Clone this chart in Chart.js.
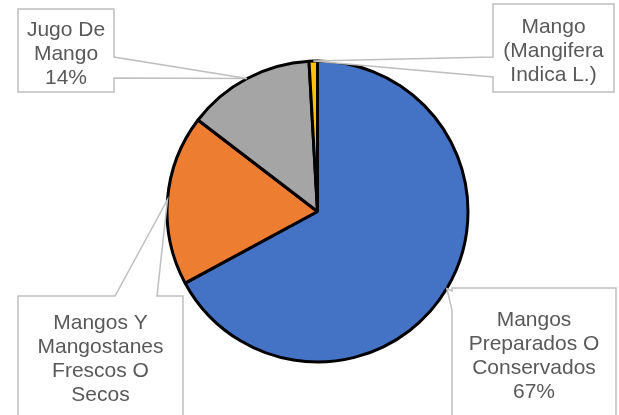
<!DOCTYPE html>
<html lang="es">
<head>
  <meta charset="UTF-8" />
  <title>Mango</title>
  <script src="https://cdn.jsdelivr.net/npm/chart.js"></script>
  <style>
    html, body { margin: 0; padding: 0; background: #fff; }
    #wrap { width: 619px; height: 415px; position: relative; }
  </style>
</head>
<body>
  <div id="wrap"><canvas id="pieChart"></canvas></div>

  <script>
    // Datos
    const categories = [
      'Mangos Preparados O Conservados',
      'Mangos Y Mangostanes Frescos O Secos',
      'Jugo De Mango',
      'Mango (Mangifera Indica L.)'
    ];
    const values = [67.1, 18.3, 13.7, 0.9];
    const labelLines = [
      ['Mangos', 'Preparados O', 'Conservados'],
      ['Mangos Y', 'Mangostanes', 'Frescos O', 'Secos'],
      ['Jugo De', 'Mango'],
      ['Mango', '(Mangifera', 'Indica L.)']
    ];

    const colors = ['#4472C4', '#ED7D31', '#A5A5A5', '#FFC000'];

    // Cajas de etiquetas (posición de la caja, lado de la flecha, primera línea)
    const boxes = [
      { x: 452, y: 288, w: 164, h: 140, side: 'left',  a: 3,  b: 22, textY: 320, pct: true },
      { x: 18,  y: 296, w: 165, h: 140, side: 'top',   a: 97, b: 139, textY: 323, pct: false },
      { x: 18,  y: 9,   w: 96,  h: 83,  side: 'right', a: 48, b: 69, textY: 30, pct: true },
      { x: 493, y: 4,   w: 121, h: 88,  side: 'left',  a: 53, b: 73, textY: 27, pct: false }
    ];

    const calloutPlugin = {
      id: 'callouts',
      afterDatasetsDraw(chart) {
        const ctx = chart.ctx;
        const meta = chart.getDatasetMeta(0);
        const total = values.reduce((s, v) => s + v, 0);
        meta.data.forEach((arc, i) => {
          const bx = boxes[i];
          const mid = (arc.startAngle + arc.endAngle) / 2;
          const tip = { x: arc.x + Math.cos(mid) * arc.outerRadius, y: arc.y + Math.sin(mid) * arc.outerRadius };
          const { x, y, w, h, a, b } = bx;
          let pts;
          if (bx.side === 'top') {
            pts = [[x, y], [x + a, y], [tip.x, tip.y], [x + b, y], [x + w, y], [x + w, y + h], [x, y + h]];
          } else if (bx.side === 'right') {
            pts = [[x, y], [x + w, y], [x + w, y + a], [tip.x, tip.y], [x + w, y + b], [x + w, y + h], [x, y + h]];
          } else {
            pts = [[x, y], [x + w, y], [x + w, y + h], [x, y + h], [x, y + b], [tip.x, tip.y], [x, y + a]];
          }
          ctx.save();
          ctx.beginPath();
          pts.forEach((p, k) => k ? ctx.lineTo(p[0], p[1]) : ctx.moveTo(p[0], p[1]));
          ctx.closePath();
          ctx.fillStyle = '#fff';
          ctx.fill();
          ctx.strokeStyle = '#BFBFBF';
          ctx.lineWidth = 1.5;
          ctx.stroke();

          // texto recortado a la caja
          ctx.beginPath();
          ctx.rect(x, y, w, h);
          ctx.clip();
          ctx.fillStyle = '#595959';
          ctx.font = '21px "Liberation Sans", Arial, sans-serif';
          ctx.textAlign = 'center';
          ctx.textBaseline = 'middle';
          let lines = labelLines[i];
          if (bx.pct) lines = lines.concat([Math.round(values[i] / total * 100) + '%']);
          lines.forEach((t, k) => ctx.fillText(t, x + w / 2, bx.textY + k * 24));
          ctx.restore();
        });
      }
    };

    new Chart(document.getElementById('pieChart'), {
      type: 'pie',
      data: {
        labels: categories,
        datasets: [{
          data: values,
          backgroundColor: colors,
          borderColor: '#000',
          borderWidth: 3
        }]
      },
      options: {
        responsive: true,
        maintainAspectRatio: false,
        animation: false,
        layout: { padding: { top: 59.5, bottom: 51.5, left: 165.5, right: 149.5 } },
        plugins: {
          legend: { display: false },
          tooltip: { enabled: false }
        }
      },
      plugins: [calloutPlugin]
    });
  </script>
</body>
</html>
